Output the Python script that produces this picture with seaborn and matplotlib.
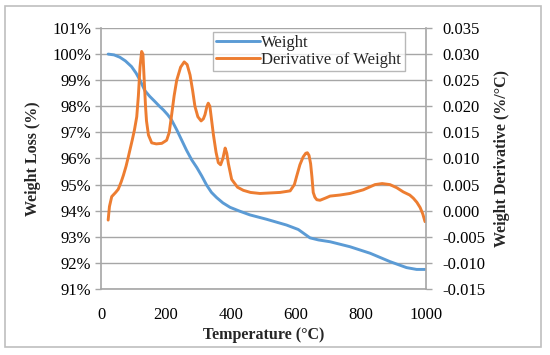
import pandas as pd
import matplotlib
matplotlib.use('Agg')
import matplotlib.pyplot as plt
import seaborn as sns
from matplotlib.patches import Rectangle

# Weight curve (%)
temp_w = [22, 40, 58, 75, 94, 108, 120, 135, 150, 166, 180, 192, 205, 217, 233, 248, 263,
          279, 295, 310, 325, 340, 356, 375, 397, 425, 458, 510, 571, 607, 625, 643, 669,
          705, 766, 828, 889, 940, 971, 997]
weight = [100.0, 99.97, 99.88, 99.74, 99.52, 99.27, 99.0, 98.6, 98.38, 98.18, 98.0, 97.86,
          97.68, 97.48, 97.1, 96.71, 96.32, 95.95, 95.65, 95.33, 94.98, 94.7, 94.5, 94.3,
          94.13, 93.99, 93.84, 93.67, 93.45, 93.28, 93.12, 92.96, 92.88, 92.81, 92.62,
          92.37, 92.05, 91.82, 91.75, 91.75]

# Derivative of weight (%/°C)
temp_d = [22, 26, 33, 45, 53, 62, 69, 77, 84, 96, 103, 110, 115, 120, 125, 129, 133, 137,
          140, 146, 156, 170, 187, 202, 210, 217, 225, 233, 245, 256, 265, 274, 282, 289,
          298, 308, 315, 320, 326, 330, 335, 340, 346, 354, 361, 368, 375, 382, 387, 392,
          402, 420, 438, 460, 489, 520, 551, 582, 595, 602, 612, 622, 630, 635, 640, 645,
          649, 653, 658, 664, 674, 690, 705, 735, 766, 807, 843, 865, 889, 910, 930, 950,
          961, 972, 982, 990, 997]
deriv = [-0.0018, 0.0008, 0.0027, 0.0035, 0.0041, 0.0055, 0.0068, 0.0085, 0.0103, 0.0135,
         0.0155, 0.0180, 0.0220, 0.0275, 0.0305, 0.0300, 0.0250, 0.0200, 0.0172, 0.0145,
         0.0130, 0.0128, 0.0129, 0.0135, 0.0150, 0.0182, 0.0220, 0.0250, 0.0275, 0.0285,
         0.0280, 0.0260, 0.0230, 0.0200, 0.0180, 0.0172, 0.0176, 0.0184, 0.0200, 0.0206,
         0.0200, 0.0175, 0.0145, 0.0112, 0.0092, 0.0088, 0.0100, 0.0120, 0.0110, 0.0090,
         0.0060, 0.0045, 0.0039, 0.0035, 0.0033, 0.0034, 0.0035, 0.0038, 0.0050, 0.0066,
         0.0088, 0.0103, 0.0110, 0.0111, 0.0106, 0.0090, 0.0065, 0.0035, 0.0026, 0.0021,
         0.0020, 0.0024, 0.0028, 0.0030, 0.0033, 0.0040, 0.0050, 0.0052, 0.0050, 0.0044,
         0.0036, 0.0030, 0.0024, 0.0016, 0.0006, -0.0006, -0.0021]

left_ticks = [91, 92, 93, 94, 95, 96, 97, 98, 99, 100, 101]
right_ticks = [-0.015, -0.010, -0.005, 0.000, 0.005, 0.010, 0.015, 0.020, 0.025, 0.030, 0.035]
x_ticks = [0, 200, 400, 600, 800, 1000]

blue = "#5B9BD5"
orange = "#ED7D31"
grid_c = "#A6A6A6"

sns.set_style("white")
plt.rcParams['font.family'] = ['Liberation Serif', 'DejaVu Serif']

df_w = pd.DataFrame({"Temperature": temp_w, "Weight": weight})
df_d = pd.DataFrame({"Temperature": temp_d, "Derivative": deriv})

fig = plt.figure(figsize=(5.5, 3.55), dpi=100)
ax = fig.add_axes([101 / 550, 1 - 289 / 355, 325 / 550, 261 / 355])
ax2 = ax.twinx()

sns.lineplot(data=df_w, x="Temperature", y="Weight", ax=ax, color=blue, lw=2.1,
             label="Weight", legend=False)
sns.lineplot(data=df_d, x="Temperature", y="Derivative", ax=ax2, color=orange, lw=2.1,
             label="Derivative of Weight", legend=False)

ax.set_xlim(0, 1000)
ax.set_ylim(91, 101)
ax2.set_ylim(-0.015, 0.035)
ax.set_xticks(x_ticks)
ax.set_yticks(left_ticks)
ax.set_yticklabels([f"{t}%" for t in left_ticks])
ax2.set_yticks(right_ticks)
ax2.set_yticklabels([f"{t:.3f}" for t in right_ticks])

ax.yaxis.grid(True, color=grid_c, lw=1)
ax.set_axisbelow(True)

for a in (ax, ax2):
    for s in a.spines.values():
        s.set_visible(False)
    a.tick_params(labelsize=12, length=4, width=1, color=grid_c, labelcolor="black")
ax.spines["left"].set_visible(True)
ax.spines["bottom"].set_visible(True)
ax2.spines["right"].set_visible(True)
for s in (ax.spines["left"], ax.spines["bottom"], ax2.spines["right"]):
    s.set_color(grid_c)
    s.set_linewidth(1.2)
ax.tick_params(axis="x", pad=9)
ax.tick_params(axis="y", pad=3)
ax2.tick_params(axis="y", pad=8)

ax.set_xlabel("Temperature (°C)", fontsize=11.5, fontweight="bold", labelpad=3)
ax.set_ylabel("Weight Loss (%)", fontsize=11.5, fontweight="bold", labelpad=8)
ax2.set_ylabel("Weight Derivative (%/°C)", fontsize=11.5, fontweight="bold", labelpad=6)

h1, l1 = ax.get_legend_handles_labels()
h2, l2 = ax2.get_legend_handles_labels()
leg = ax2.legend(h1 + h2, l1 + l2, loc="upper left", bbox_to_anchor=(0.345, 0.985),
                 fontsize=12, frameon=True, fancybox=False, handlelength=2.6,
                 handletextpad=0.1, borderpad=0.2, labelspacing=0.05, borderaxespad=0)
leg.get_frame().set_edgecolor(grid_c)
leg.get_frame().set_linewidth(1)

# outer chart border
fig.patches.append(Rectangle((5 / 550, 1 - 347 / 355), 536 / 550, 341 / 355,
                             transform=fig.transFigure, fill=False, ec="#BFBFBF", lw=1.2))

fig.savefig("out.png", dpi=100)
plt.close(fig)
